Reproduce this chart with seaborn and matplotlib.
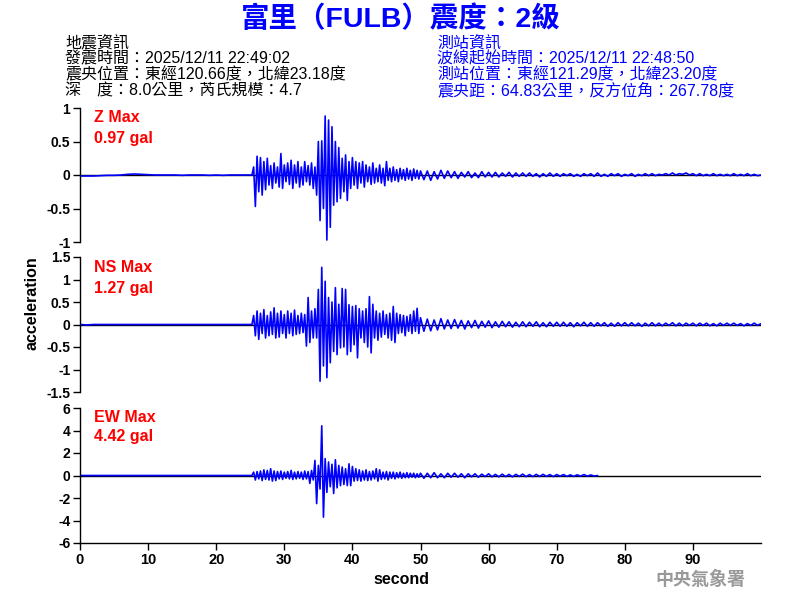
import numpy as np
import pandas as pd
import seaborn as sns
import matplotlib
matplotlib.use("Agg")
import matplotlib.pyplot as plt
from matplotlib.ticker import FuncFormatter

sns.set_style("white")
plt.rcParams['font.family'] = ['Liberation Sans', 'Noto Sans CJK TC', 'DejaVu Sans']
plt.rcParams['axes.unicode_minus'] = False

# ---------------- data ----------------
title = "富里（FULB）震度：2級"
quake_info = ["地震資訊", "發震時間：2025/12/11 22:49:02",
              "震央位置：東經120.66度，北緯23.18度", "深　度：8.0公里，芮氏規模：4.7"]
station_info = ["測站資訊", "波線起始時間：2025/12/11 22:48:50",
                "測站位置：東經121.29度，北緯23.20度", "震央距：64.83公里，反方位角：267.78度"]
channels = ["Z", "NS", "EW"]
max_gal = ["0.97", "1.27", "4.42"]
y_limits = [(-1, 1), (-1.5, 1.5), (-6, 6)]
y_ticks = [[-1, -0.5, 0, 0.5, 1], [-1.5, -1, -0.5, 0, 0.5, 1, 1.5], [-6, -4, -2, 0, 2, 4, 6]]
x_ticks = [0, 10, 20, 30, 40, 50, 60, 70, 80, 90]

# pre-event samples, 1 s apart from 0 s
z_pre = [-0.015, -0.015, -0.015, -0.01, -0.005, -0.005, 0.0, 0.01, 0.015, 0.01, 0.005, 0.0,
         0.0, 0.0, 0.0, -0.005, 0.0, 0.0, 0.0, -0.005, 0.0, -0.005, 0.0, 0.0, 0.0]
ns_pre = [0.0, -0.01, 0.0, 0.0, 0.0, 0.0, 0.0, 0.0, 0.0, 0.0, 0.0, 0.0, 0.0,
          0.0, 0.0, 0.0, 0.0, 0.0, 0.0, 0.0, 0.0, 0.0, 0.0, 0.0, 0.0]
ew_pre = [0.0] * 25

# strong-motion peaks, 0.25 s apart from 25.0 s to 50.0 s
z_main = [0.0, 0.0, 0.12, -0.47, 0.28, -0.25, 0.26, -0.3, 0.2, -0.22, 0.25, -0.15,
          0.14, -0.2, 0.18, -0.12, 0.12, -0.18, 0.32, -0.2, 0.15, -0.1, 0.18, -0.14,
          0.22, -0.2, 0.15, -0.12, 0.2, -0.18, 0.12, -0.15, 0.2, -0.1, 0.14, -0.15,
          0.18, -0.2, 0.12, -0.3, 0.5, -0.68, 0.51, -0.5, 0.88, -0.97, 0.82, -0.78,
          0.72, -0.45, 0.5, -0.4, 0.41, -0.35, 0.25, -0.25, 0.3, -0.38, 0.2, -0.2,
          0.26, -0.15, 0.2, -0.2, 0.18, -0.12, 0.2, -0.18, 0.15, -0.1, 0.12, -0.14,
          0.18, -0.12, 0.1, -0.1, 0.15, -0.12, 0.1, -0.16, 0.2, -0.08, 0.1, -0.1,
          0.12, -0.08, 0.08, -0.1, 0.1, -0.06, 0.08, -0.08, 0.1, -0.06, 0.07, -0.08,
          0.09, -0.05, 0.07, -0.06, 0.06]
ns_main = [0.0, 0.0, 0.2, -0.25, 0.3, -0.33, 0.25, -0.2, 0.33, -0.3, 0.2, -0.25,
           0.28, -0.22, 0.37, -0.3, 0.25, -0.28, 0.3, -0.2, 0.22, -0.3, 0.3, -0.2,
           0.25, -0.25, 0.32, -0.22, 0.2, -0.2, 0.25, -0.18, 0.22, -0.48, 0.6, -0.4,
           0.3, -0.3, 0.35, -0.3, 0.78, -1.26, 1.27, -0.92, 0.96, -1.18, 0.6, -0.85,
           0.5, -0.6, 0.82, -0.67, 0.45, -0.52, 0.8, -0.5, 0.78, -0.67, 0.44, -0.6,
           0.4, -0.45, 0.42, -0.74, 0.35, -0.3, 0.3, -0.4, 0.35, -0.5, 0.62, -0.63,
           0.45, -0.3, 0.3, -0.35, 0.25, -0.28, 0.3, -0.22, 0.22, -0.3, 0.25, -0.35,
           0.4, -0.4, 0.25, -0.2, 0.22, -0.18, 0.2, -0.25, 0.18, -0.15, 0.22, -0.2,
           0.3, -0.15, 0.36, -0.2, 0.15]
ew_main = [0.0, 0.0, 0.3, -0.4, 0.35, -0.3, 0.4, -0.45, 0.5, -0.35, 0.45, -0.4,
           0.6, -0.5, 0.4, -0.45, 0.35, -0.3, 0.4, -0.35, 0.3, -0.25, 0.35, -0.3,
           0.45, -0.35, 0.3, -0.3, 0.35, -0.25, 0.3, -0.35, 0.4, -0.3, 0.35, -0.7,
           0.45, -0.4, 1.34, -2.5, 0.9, -1.2, 4.42, -3.7, 1.5, -1.5, 1.2, -1.0,
           1.0, -1.6, 1.4, -1.1, 0.9, -0.9, 0.75, -0.8, 0.6, -0.9, 1.04, -0.9,
           0.8, -0.5, 0.6, -0.45, 0.5, -0.5, 0.4, -0.4, 0.5, -0.45, 0.35, -0.4,
           0.4, -0.3, 0.6, -0.5, 0.5, -0.35, 0.3, -0.3, 0.35, -0.4, 0.3, -0.25,
           0.3, -0.3, 0.25, -0.2, 0.3, -0.25, 0.2, -0.2, 0.25, -0.2, 0.2, -0.15,
           0.2, -0.2, 0.15, -0.15, 0.2]

# coda, 0.5 s apart from 50.5 s
z_tail = [-0.07, 0.06, -0.08, 0.05, -0.06, 0.07, -0.05, 0.06, -0.04, 0.05,
          -0.05, 0.04, -0.03, 0.05, -0.04, 0.03, -0.04, 0.05, -0.03, 0.04,
          -0.03, 0.04, -0.03, 0.03, -0.02, 0.04, -0.03, 0.03, -0.02, 0.03,
          -0.02, 0.03, -0.02, 0.02, -0.03, 0.02, -0.02, 0.03, -0.02, 0.02,
          -0.02, 0.02, -0.01, 0.02, -0.02, 0.01, -0.02, 0.02, -0.01, 0.02,
          -0.02, 0.03, -0.02, 0.01, -0.02, 0.02, -0.01, 0.02, -0.02, 0.01,
          -0.01, 0.02, -0.02, 0.01, -0.01, 0.02, -0.01, 0.02, -0.01, 0.01,
          0.0, 0.02, 0.0, 0.03, 0.0, 0.02, 0.01, 0.03, 0.0, 0.02,
          -0.01, 0.02, -0.01, 0.01, -0.01, 0.02, -0.01, 0.01, -0.01, 0.01,
          -0.01, 0.02, -0.01, 0.01, -0.01, 0.02, -0.01, 0.01, -0.01, 0.0]
ns_tail = [-0.15, 0.12, -0.14, 0.1, -0.12, 0.13, -0.1, 0.1, -0.09, 0.11,
           -0.08, 0.09, -0.1, 0.08, -0.07, 0.09, -0.08, 0.07, -0.06, 0.08,
           -0.07, 0.06, -0.06, 0.07, -0.05, 0.06, -0.06, 0.05, -0.05, 0.06,
           -0.05, 0.05, -0.04, 0.06, -0.05, 0.04, -0.05, 0.05, -0.04, 0.05,
           -0.04, 0.05, -0.04, 0.04, -0.05, 0.04, -0.03, 0.05, -0.04, 0.04,
           -0.04, 0.04, -0.03, 0.04, -0.04, 0.03, -0.04, 0.04, -0.03, 0.04,
           -0.03, 0.04, -0.03, 0.03, -0.04, 0.03, -0.03, 0.04, -0.03, 0.03,
           -0.03, 0.03, -0.02, 0.04, -0.03, 0.03, -0.03, 0.03, -0.02, 0.03,
           -0.03, 0.03, -0.02, 0.03, -0.03, 0.02, -0.03, 0.03, -0.02, 0.03,
           -0.02, 0.03, -0.02, 0.02, -0.03, 0.02, -0.02, 0.03, -0.02, 0.02]
ew_tail = [-0.25, 0.2, -0.2, 0.25, -0.2, 0.15, -0.2, 0.2, -0.15, 0.2,
           -0.15, 0.15, -0.2, 0.15, -0.12, 0.15, -0.15, 0.12, -0.1, 0.15,
           -0.12, 0.1, -0.12, 0.12, -0.1, 0.1, -0.12, 0.1, -0.08, 0.12,
           -0.1, 0.08, -0.1, 0.1, -0.08, 0.1, -0.08, 0.08, -0.1, 0.08,
           -0.06, 0.08, -0.08, 0.06, -0.08, 0.06, -0.06, 0.08, -0.06, 0.05,
           -0.05, 0.0]


def build(pre, main, tail):
    t = np.concatenate([np.arange(len(pre)) * 1.0,
                        25.0 + np.arange(len(main)) * 0.25,
                        50.5 + np.arange(len(tail)) * 0.5])
    v = np.concatenate([pre, main, tail])
    return pd.DataFrame({"second": t, "acceleration": v})


traces = [build(z_pre, z_main, z_tail), build(ns_pre, ns_main, ns_tail),
          build(ew_pre, ew_main, ew_tail)]

# ---------------- figure ----------------
fig = plt.figure(figsize=(8, 6), dpi=100)
W, H = 800.0, 600.0
panel_px = [(108, 242), (257, 392), (408, 543)]
left_px, right_px = 80, 761
label_px = [(118, 138), (268, 288), (417, 437)]

fmt = FuncFormatter(lambda v, p: "%g" % v)
for i, (df, (top, bot)) in enumerate(zip(traces, panel_px)):
    ax = fig.add_axes([left_px / W, 1 - bot / H, (right_px - left_px) / W, (bot - top) / H])
    ax.set_facecolor("white")
    ax.axhline(0, color="black", lw=1.0, zorder=1)
    sns.lineplot(data=df, x="second", y="acceleration", ax=ax, color="#0000ff",
                 lw=1.2, estimator=None, sort=False, zorder=2)
    ax.set_xlim(0, 100)
    ax.set_ylim(*y_limits[i])
    ax.set_yticks(y_ticks[i])
    ax.yaxis.set_major_formatter(fmt)
    ax.set_xlabel("")
    ax.set_ylabel("")
    for s in ["top", "right"]:
        ax.spines[s].set_visible(False)
    ax.spines["left"].set_color("black")
    ax.spines["left"].set_linewidth(1.0)
    ax.tick_params(axis="y", direction="out", length=5, width=1, colors="black",
                   labelsize=10, left=True, pad=2)
    for lab in ax.get_yticklabels():
        lab.set_fontweight("bold")
    if i < 2:
        ax.spines["bottom"].set_visible(False)
        ax.set_xticks([])
    else:
        ax.spines["bottom"].set_color("black")
        ax.spines["bottom"].set_linewidth(1.0)
        ax.set_xticks(x_ticks)
        ax.xaxis.set_major_formatter(fmt)
        ax.tick_params(axis="x", direction="out", length=5, width=1, colors="black",
                       labelsize=10.5, bottom=True, pad=2)
        for lab in ax.get_xticklabels():
            lab.set_fontweight("bold")
    y1, y2 = label_px[i]
    fig.text(94 / W, 1 - y1 / H, f"{channels[i]} Max", color="#ff0000",
             fontsize=11.5, fontweight="bold", va="center", ha="left")
    fig.text(94 / W, 1 - y2 / H, f"{max_gal[i]} gal", color="#ff0000",
             fontsize=11.5, fontweight="bold", va="center", ha="left")

fig.text(401 / W, 1 - 19 / H, title, color="#0000ff", fontsize=20.5,
         fontweight="bold", ha="center", va="center")
line_y = [43, 59, 75, 91]
for s, y in zip(quake_info, line_y):
    fig.text(65 / W, 1 - y / H, s, color="black", fontsize=11.5, ha="left", va="center")
for s, y in zip(station_info, line_y):
    fig.text(437 / W, 1 - y / H, s, color="#0000ff", fontsize=11.5, ha="left", va="center")

fig.text(32 / W, 1 - 303 / H, "acceleration", rotation=90, fontsize=11.5,
         fontweight="bold", ha="center", va="center", color="black")
fig.text(401 / W, 1 - 580 / H, "second", fontsize=11.5, fontweight="bold",
         ha="center", va="center", color="black")
fig.text(700 / W, 1 - 580 / H, "中央氣象署", fontsize=13, fontweight="bold",
         ha="center", va="center", color="#999999")

fig.savefig("out.png", dpi=100, facecolor="white")
